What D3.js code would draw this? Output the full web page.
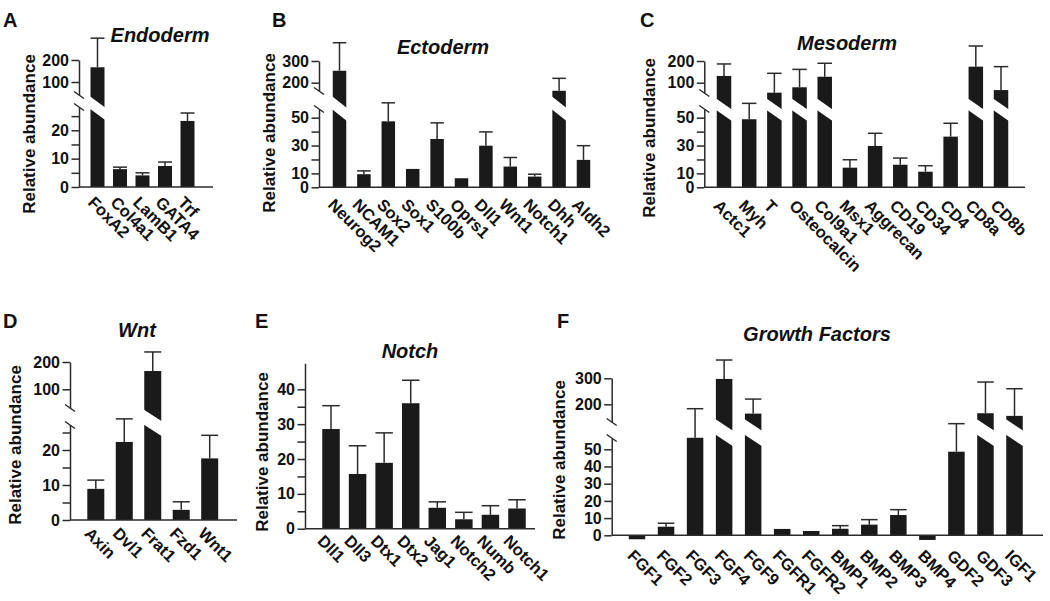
<!DOCTYPE html>
<html><head><meta charset="utf-8">
<script src="https://cdn.jsdelivr.net/npm/d3@7"></script>
<style>
body{margin:0;background:#fff}
text{font-family:"Liberation Sans",Arial,Helvetica,sans-serif;font-weight:bold;fill:#111}
</style>
</head><body>
<svg id="chart" width="1050" height="601"></svg>
<script>
// ---------------- DATA ----------------
const endoCats = ["FoxA2","Col4a1","LamB1","GATA4","Trf"];
const endoVals = [159, 6.3, 4.1, 7.4, 23.3];
const endoErrs = [398, 7.0, 5.0, 8.8, 26.1];
const endoLowTicks = [0,5,10,15,20,25];
const endoLowLabels = [0,10,20];
const endoUpTicks = [100,200];

const ectoCats = ["Neurog2","NCAM1","Sox2","Sox1","S100b","Oprs1","Dll1","Wnt1","Notch1","Dhh","Aldh2"];
const ectoVals = [250, 9.4, 47.4, 13.2, 34.7, 6.5, 29.9, 14.9, 7.7, 172, 19.7];
const ectoErrs = [422, 11.8, 60.7, null, 46.3, null, 39.8, 21.4, 9.4, 217, 29.9];
const ectoLowTicks = [0,10,20,30,40,50];
const ectoLowLabels = [0,10,30,50];
const ectoUpTicks = [200,300];

const mesoCats = ["Actc1","Myh","T","Osteocalcin","Col9a1","Msx1","Aggrecan","CD19","CD34","CD4","CD8a","CD8b"];
const mesoVals = [124, 48.9, 72.7, 86.4, 121, 14.1, 29.7, 16.2, 11.2, 36.4, 167, 79];
const mesoErrs = [182, 60.3, 135, 153, 186, 19.8, 38.8, 21, 15.5, 46, 323, 167];
const mesoLowTicks = [0,10,20,30,40,50];
const mesoLowLabels = [0,10,30,50];
const mesoUpTicks = [100,200];

const wntCats = ["Axin","Dvl1","Frat1","Fzd1","Wnt1"];
const wntVals = [8.9, 22.3, 159, 2.9, 17.6];
const wntErrs = [11.4, 28.9, 258, 5.2, 24.2];
const wntLowTicks = [0,5,10,15,20,25];
const wntLowLabels = [0,10,20];
const wntUpTicks = [100,200];

const notchCats = ["Dll1","Dll3","Dtx1","Dtx2","Jag1","Notch2","Numb","Notch1"];
const notchVals = [28.6, 15.7, 18.9, 36, 6.0, 2.7, 4.0, 5.8];
const notchErrs = [35.3, 23.8, 27.5, 42.6, 7.7, 4.7, 6.6, 8.3];
const notchLowTicks = [0,5,10,15,20,25,30,35,40];
const notchLowLabels = [0,10,20,30,40];
const notchUpTicks = [];

const gfCats = ["FGF1","FGF2","FGF3","FGF4","FGF9","FGFR1","FGFR2","BMP1","BMP2","BMP3","BMP4","GDF2","GDF3","IGF1"];
const gfVals = [-2.3, 5.0, 56.7, 297, 173, 3.7, 2.5, 3.8, 6.2, 11.8, -2.7, 48.6, 174, 167];
const gfErrs = [null, 7.0, 73.6, 399, 217, null, null, 5.6, 9.1, 14.9, null, 64.9, 283, 255];
const gfLowTicks = [0,10,20,30,40,50];
const gfLowLabels = [0,10,20,30,40,50];
const gfUpTicks = [200,300];

// ---------------- LAYOUT ----------------
const layouts = {
  A:{letter:"A",letterX:3,letterY:27,title:"Endoderm",titleX:160,titleY:42,ylabX:35,ylabY:134,
     ax:79,xEnd:213,y0:187,lowRef:[20,130.3],lowTop:107,lowMax:28,
     up:{domain:[100,200],range:[82,60]},upTop:60,upBot:95,
     c0:97.5,c1:187.5,bw:14,gap:{g:96.7,t:12.6,s:0.73},lab:[-2,8]},
  B:{letter:"B",letterX:272,letterY:27,title:"Ectoderm",titleX:443,titleY:54,ylabX:275,ylabY:133,
     ax:319,xEnd:590,y0:187.3,lowRef:[50,117.7],lowTop:109,lowMax:55,
     up:{domain:[200,300],range:[82.7,61]},upTop:61,upBot:91,
     c0:339.5,c1:583.5,bw:13.5,gap:{g:96.7,t:13,s:0.8},lab:[-4,10]},
  C:{letter:"C",letterX:640,letterY:27,title:"Mesoderm",titleX:847,titleY:50,ylabX:655,ylabY:138,
     ax:704.3,xEnd:1025,y0:187.3,lowRef:[50,117.7],lowTop:109,lowMax:55,
     up:{domain:[100,200],range:[82.7,61]},upTop:61,upBot:93,
     c0:724,c1:1001,bw:14.5,gap:{g:99,t:11.5,s:0.7},lab:[-3,11]},
  D:{letter:"D",letterX:3,letterY:328,title:"Wnt",titleX:137,titleY:337,ylabX:21,ylabY:445,
     ax:70,xEnd:237,y0:520,lowRef:[20,450],lowTop:425,lowMax:28,
     up:{domain:[100,200],range:[389.3,362]},upTop:362,upBot:408,
     c0:95.8,c1:209.7,bw:17,gap:{g:410,t:15,s:0.64},lab:[-4,6]},
  E:{letter:"E",letterX:255,letterY:328,title:"Notch",titleX:410,titleY:358,ylabX:268,ylabY:452,
     ax:305,xEnd:535,y0:528.7,lowRef:[40,389.3],lowTop:363.3,lowMax:1e9,
     up:null,
     c0:331,c1:517,bw:17.5,gap:null,lab:[-6,5]},
  F:{letter:"F",letterX:557,letterY:328,title:"Growth Factors",titleX:817,titleY:341,ylabX:565,ylabY:460,
     ax:611.7,xEnd:1043,y0:535.3,lowRef:[50,449.3],lowTop:438,lowMax:60,
     up:{domain:[200,300],range:[404.3,378.3]},upTop:378.3,upBot:422,
     c0:637,c1:1014.5,bw:16.5,gap:{g:419.5,t:15.5,s:0.66},lab:[-2,13]}
};

const svg = d3.select("#chart");
const AX = "#2b2b2b", BAR = "#1a1a1a";

function styleAxis(sel){
  sel.attr("font-size",null).attr("font-family",null);
  sel.selectAll("path.domain").attr("stroke",AX).attr("stroke-width",1.5);
  sel.selectAll(".tick line").attr("stroke",AX).attr("stroke-width",1.5);
  sel.selectAll(".tick text").style("font-size","16px").attr("fill","#111");
}

function drawPanel(L, cats, vals, errs, lowTicks, lowLabels, upTicks){
  const g = svg.append("g");
  const x = d3.scalePoint().domain(cats).range([L.c0, L.c1]);
  const low = d3.scaleLinear().domain([0, L.lowRef[0]]).range([L.y0, L.lowRef[1]]);
  const up = L.up ? d3.scaleLog().domain(L.up.domain).range(L.up.range) : null;
  const isUp = v => !!up && v > L.lowMax;
  const y = v => isUp(v) ? up(v) : low(v);

  // lower axis segment
  const lowSeg = low.copy().domain([0, low.invert(L.lowTop)]).range([L.y0, L.lowTop]);
  g.append("g").attr("transform",`translate(${L.ax},0)`)
    .call(d3.axisLeft(lowSeg).tickValues(lowTicks).tickSizeOuter(0).tickSizeInner(7.5).tickPadding(2.5)
      .tickFormat(d => lowLabels.includes(d) ? d : ""))
    .call(styleAxis);

  if (up){
    const upSeg = up.copy().domain([up.invert(L.upBot), up.invert(L.upTop)]).range([L.upBot, L.upTop]);
    g.append("g").attr("transform",`translate(${L.ax},0)`)
      .call(d3.axisLeft(upSeg).tickValues(upTicks).tickSizeOuter(0).tickSizeInner(7.5).tickPadding(2.5)
        .tickFormat(d3.format("d")))
      .call(styleAxis);
    // break marks
    [L.upBot, L.lowTop].forEach(yy => {
      g.append("line").attr("x1",L.ax-5).attr("y1",yy-3.5).attr("x2",L.ax+5).attr("y2",yy+3.5)
        .attr("stroke",AX).attr("stroke-width",1.5);
    });
  }

  // bars
  g.selectAll("rect.bar").data(cats).join("rect").attr("class","bar")
    .attr("x", d => x(d) - L.bw/2).attr("width", L.bw)
    .attr("y", (d,i) => Math.min(y(vals[i]), L.y0))
    .attr("height", (d,i) => Math.abs(L.y0 - y(vals[i])))
    .attr("fill", BAR);

  // gaps on broken bars
  if (L.gap){
    const gp = L.gap;
    g.selectAll("polygon.gap").data(cats.filter((d,i) => isUp(vals[i]))).join("polygon").attr("class","gap")
      .attr("points", d => {
        const bx = x(d) - L.bw/2 - 1, w = L.bw + 2;
        const y1 = gp.g - gp.s, y2 = y1 + gp.s*w;
        return [[bx,y1],[bx+w,y2],[bx+w,y2+gp.t],[bx,y1+gp.t]].map(p=>p.join(",")).join(" ");
      })
      .attr("fill","#fff");
  }

  // error bars
  const eData = cats.map((d,i)=>({d, v:vals[i], e:errs[i]})).filter(o => o.e != null);
  const ey = o => isUp(o.v) ? up(o.e) : low(o.e);
  g.selectAll("line.err").data(eData).join("line").attr("class","err")
    .attr("x1", o => x(o.d)).attr("x2", o => x(o.d))
    .attr("y1", o => y(o.v)).attr("y2", ey)
    .attr("stroke", AX).attr("stroke-width", 1.5);
  g.selectAll("line.cap").data(eData).join("line").attr("class","cap")
    .attr("x1", o => x(o.d) - L.bw/2).attr("x2", o => x(o.d) + L.bw/2)
    .attr("y1", ey).attr("y2", ey)
    .attr("stroke", AX).attr("stroke-width", 1.5);

  // x axis line
  g.append("line").attr("x1",L.ax).attr("x2",L.xEnd).attr("y1",L.y0).attr("y2",L.y0)
    .attr("stroke",AX).attr("stroke-width",1.5);

  // category labels
  g.selectAll("text.xl").data(cats).join("text").attr("class","xl")
    .attr("transform", d => `translate(${x(d)+L.lab[0]},${L.y0+L.lab[1]}) rotate(45)`)
    .attr("dy","0.72em").style("font-size","16.5px").text(d => d);

  // title
  g.append("text").attr("x",L.titleX).attr("y",L.titleY).attr("text-anchor","middle")
    .style("font-size","20px").style("font-style","italic").text(L.title);
  // y label
  g.append("text").attr("transform",`translate(${L.ylabX},${L.ylabY}) rotate(-90)`)
    .attr("text-anchor","middle").style("font-size","17px").text("Relative abundance");
  // panel letter
  g.append("text").attr("x",L.letterX).attr("y",L.letterY).style("font-size","20px").text(L.letter);
}

drawPanel(layouts.A, endoCats, endoVals, endoErrs, endoLowTicks, endoLowLabels, endoUpTicks);
drawPanel(layouts.B, ectoCats, ectoVals, ectoErrs, ectoLowTicks, ectoLowLabels, ectoUpTicks);
drawPanel(layouts.C, mesoCats, mesoVals, mesoErrs, mesoLowTicks, mesoLowLabels, mesoUpTicks);
drawPanel(layouts.D, wntCats, wntVals, wntErrs, wntLowTicks, wntLowLabels, wntUpTicks);
drawPanel(layouts.E, notchCats, notchVals, notchErrs, notchLowTicks, notchLowLabels, notchUpTicks);
drawPanel(layouts.F, gfCats, gfVals, gfErrs, gfLowTicks, gfLowLabels, gfUpTicks);
</script>
</body></html>
